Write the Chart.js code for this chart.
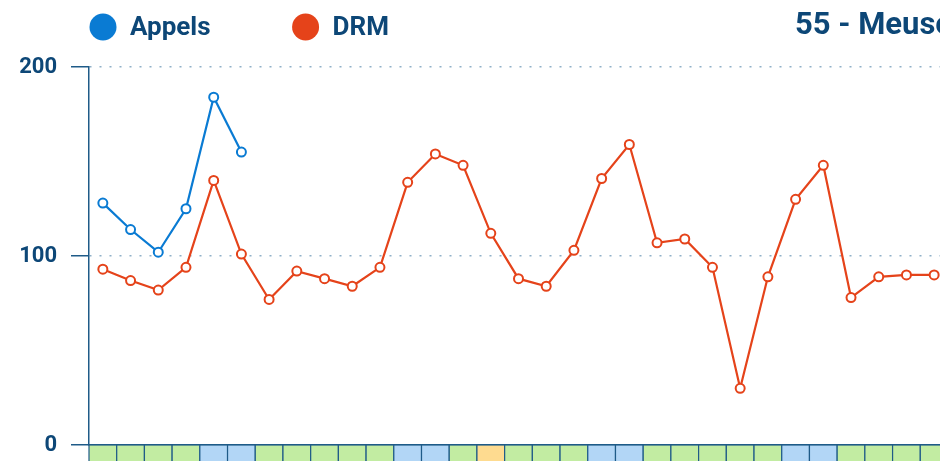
<!DOCTYPE html>
<html lang="fr">
<head>
<meta charset="utf-8">
<title>55 - Meuse</title>
<script src="https://cdn.jsdelivr.net/npm/chart.js@4.4.1/dist/chart.umd.min.js"></script>
<style>
    html, body { margin: 0; padding: 0; background: #fff; overflow: hidden; }
    #cadre { position: relative; width: 960px; height: 480px; }
</style>
</head>
<body>
<div id="cadre"><canvas id="appelsChart"></canvas></div>
<script>
// Août 2023, un point par jour
const jours = ['01/08', '02/08', '03/08', '04/08', '05/08', '06/08', '07/08', '08/08', '09/08', '10/08',
    '11/08', '12/08', '13/08', '14/08', '15/08', '16/08', '17/08', '18/08', '19/08', '20/08',
    '21/08', '22/08', '23/08', '24/08', '25/08', '26/08', '27/08', '28/08', '29/08', '30/08', '31/08'];
const appels = [128, 114, 102, 125, 184, 155];
const drm = [93, 87, 82, 94, 140, 101, 77, 92, 88, 84, 94, 139, 154, 148, 112, 88,
    84, 103, 141, 159, 107, 109, 94, 30, 89, 130, 148, 78, 89, 90, 90];
// o = jour ouvré, w = week-end, f = férié
const typeJour = ['o', 'o', 'o', 'o', 'w', 'w', 'o', 'o', 'o', 'o', 'o', 'w', 'w', 'o', 'f', 'o',
    'o', 'o', 'w', 'w', 'o', 'o', 'o', 'o', 'o', 'w', 'w', 'o', 'o', 'o', 'o'];
const ticksY = [0, 100, 200];
const titre = '55 - Meuse';

const bleuTexte = '#0d4777';
const couleurAppels = '#0a7bd3';
const couleurDrm = '#e5431a';
const couleursJour = { o: '#c2eca2', w: '#b2d6f6', f: '#fedb90' };
const police = 'Roboto, "Noto Sans", sans-serif';

// Bande des types de jour sous l'axe des x
const bandeJours = {
    id: 'bandeJours',
    afterDraw(chart) {
        const ctx = chart.ctx;
        const x = chart.scales.x;
        const haut = chart.chartArea.bottom;
        const largeur = x.width / jours.length;
        ctx.save();
        typeJour.forEach((t, i) => {
            const gauche = x.getPixelForValue(i) - largeur / 2;
            ctx.fillStyle = couleursJour[t];
            ctx.fillRect(gauche, haut, largeur, 26);
            ctx.strokeStyle = '#1f5b88';
            ctx.lineWidth = 1.2;
            ctx.strokeRect(gauche, haut, largeur, 26);
        });
        ctx.restore();
    }
};

// Légende et titre sur la même ligne
const enTete = {
    id: 'enTete',
    afterDraw(chart) {
        const ctx = chart.ctx;
        ctx.save();
        ctx.font = 'bold 26px ' + police;
        ctx.textBaseline = 'middle';
        let x = chart.chartArea.left + 1;
        chart.data.datasets.forEach(ds => {
            ctx.fillStyle = ds.borderColor;
            ctx.beginPath();
            ctx.arc(x + 13, 27, 13.5, 0, Math.PI * 2);
            ctx.fill();
            ctx.fillStyle = bleuTexte;
            ctx.textAlign = 'left';
            ctx.fillText(ds.label, x + 40, 28);
            x += 40 + ctx.measureText(ds.label).width + 82;
        });
        ctx.font = 'bold 31px ' + police;
        ctx.textAlign = 'left';
        ctx.fillText(titre, 795, 26);
        ctx.restore();
    }
};

const ctx = document.getElementById('appelsChart').getContext('2d');
const appelsChart = new Chart(ctx, {
    type: 'line',
    data: {
        labels: jours,
        datasets: [{
            label: 'Appels',
            data: appels,
            borderColor: couleurAppels,
            backgroundColor: '#ffffff',
            borderWidth: 2.2,
            pointRadius: 4.5,
            pointBorderWidth: 2,
            pointBackgroundColor: '#ffffff',
            tension: 0
        }, {
            label: 'DRM',
            data: drm,
            borderColor: couleurDrm,
            backgroundColor: '#ffffff',
            borderWidth: 2.2,
            pointRadius: 4.5,
            pointBorderWidth: 2,
            pointBackgroundColor: '#ffffff',
            tension: 0
        }]
    },
    options: {
        responsive: true,
        maintainAspectRatio: false,
        animation: false,
        layout: { padding: { top: 67, right: 12, left: 0, bottom: 0 } },
        plugins: {
            legend: { display: false },
            tooltip: { enabled: false }
        },
        scales: {
            x: {
                offset: true,
                ticks: { display: false },
                grid: { display: false, drawTicks: false },
                border: { color: '#1f5b88', width: 1.5 },
                afterFit(scale) { scale.height = 35; }
            },
            y: {
                min: 0,
                max: 200,
                afterBuildTicks(scale) { scale.ticks = ticksY.map(v => ({ value: v })); },
                ticks: {
                    padding: 14,
                    color: bleuTexte,
                    font: { family: police, size: 22, weight: 'bold' }
                },
                grid: {
                    color: '#8fb0c8',
                    lineWidth: 1.5,
                    tickLength: 18,
                    tickColor: '#1f5b88',
                    tickBorderDash: [],
                    tickWidth: 1.5
                },
                border: { color: '#1f5b88', width: 1.5, dash: [2, 8] },
                afterFit(scale) { scale.width = 89; }
            }
        }
    },
    plugins: [bandeJours, enTete]
});
</script>
</body>
</html>
